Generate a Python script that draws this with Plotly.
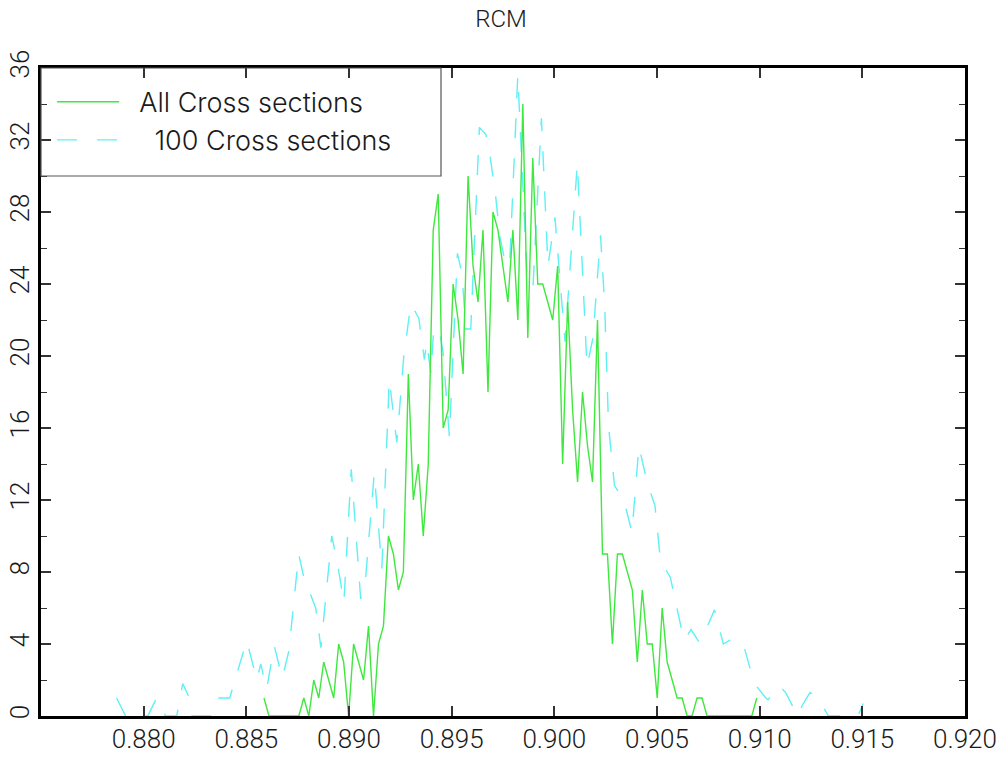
import plotly.graph_objects as go

# ---------------- data ----------------
# "All Cross sections": histogram counts on a regular bin grid
ALL_BIN_START = 0.88586
ALL_BIN_STEP = 0.00024242
all_counts = [1, 0, 0, 0, 0, 0, 0, 0, 1, 0,
              2, 1, 3, 2, 1, 4, 3, 0, 4, 3,
              2, 5, 0, 4, 5, 10, 9, 7, 8, 19,
              12, 14, 10, 14, 27, 29, 16, 17, 24, 22,
              19, 30, 25, 23, 27, 18, 28, 27, 25, 23,
              27, 22, 34, 21, 31, 24, 24, 23, 22, 25,
              14, 23, 17, 13, 18, 15, 13, 22, 9, 9,
              4, 9, 9, 8, 7, 3, 7, 4, 4, 1,
              6, 3, 2, 1, 1, 0, 0, 1, 1, 0,
              0, 0, 0, 0, 0, 0, 0, 0, 0, 1]
all_x = [ALL_BIN_START + i * ALL_BIN_STEP for i in range(len(all_counts))]

# "100 Cross sections": vertices
sub_x = [0.87868, 0.87912, 0.88020, 0.88063, 0.88107, 0.88161, 0.88190, 0.88219,
         0.88234, 0.88331, 0.88361, 0.88419, 0.88502, 0.88551, 0.88570, 0.88599,
         0.88636, 0.88675, 0.88707, 0.88755, 0.88780, 0.88838, 0.88863, 0.88916,
         0.88942, 0.88975, 0.89011, 0.89057, 0.89082, 0.89123, 0.89160, 0.89196,
         0.89233, 0.89267, 0.89301, 0.89340, 0.89367, 0.89379, 0.89399, 0.89413,
         0.89442, 0.89458, 0.89489, 0.89528, 0.89550, 0.89569, 0.89593, 0.89635,
         0.89667, 0.89686, 0.89714, 0.89735, 0.89759, 0.89782, 0.89822, 0.89868,
         0.89896, 0.89937, 0.89969, 0.90003, 0.90052, 0.90112, 0.90136, 0.90159,
         0.90188, 0.90225, 0.90245, 0.90264, 0.90293, 0.90339, 0.90378, 0.90412,
         0.90451, 0.90490, 0.90519, 0.90539, 0.90565, 0.90588, 0.90631, 0.90666,
         0.90705, 0.90724, 0.90780, 0.90823, 0.90870, 0.90920, 0.90945, 0.90974,
         0.91030, 0.91041, 0.91094, 0.91127, 0.91185, 0.91208, 0.91245, 0.91283,
         0.91335, 0.91479, 0.91504]
sub_counts = [1.0, 0, 0, 1.0, 0, 0, 1.8, 1.1,
              0, 0, 1.0, 1.0, 4.2, 2.0, 2.9, 1.5,
              3.9, 2.1, 3.6, 9.0, 7.7, 6.0, 3.8, 10.0,
              8.6, 6.3, 13.7, 6.5, 7.8, 13.5, 8.2, 18.7,
              15.2, 20.0, 22.9, 22.1, 19.8, 20.8, 19.0, 21.6,
              21.3, 20.2, 15.5, 25.7, 24.6, 21.5, 21.5, 32.7,
              32.3, 31.2, 28.9, 26.6, 25.3, 25.0, 35.6, 24.2,
              23.8, 33.2, 25.0, 27.7, 20.8, 30.7, 25.0, 19.4,
              21.0, 26.7, 22.9, 16.1, 12.8, 12.0, 10.2, 15.0,
              13.0, 11.7, 8.4, 8.2, 7.7, 6.5, 4.2, 4.8,
              4.1, 4.4, 5.9, 4.0, 4.3, 4.0, 3.0, 1.8,
              1.0, 0.9, 1.7, 1.3, 0, 0.6, 1.3, 1.0,
              0, 0, 0.7]

x_tick_vals = [0.880, 0.885, 0.890, 0.895, 0.900, 0.905, 0.910, 0.915, 0.920]
x_tick_text = ["0.880", "0.885", "0.890", "0.895", "0.900", "0.905", "0.910", "0.915", "0.920"]
y_tick_vals = [0, 4, 8, 12, 16, 20, 24, 28, 32, 36]

FONT = "Roboto, Noto Sans, Liberation Sans, sans-serif"
LEG_FONT = "Inter, Roboto, Noto Sans, sans-serif"
TXT = "#1a1a1a"

fig = go.Figure()
fig.add_trace(go.Scatter(
    x=sub_x, y=sub_counts, mode="lines",
    name="\u00a0\u00a0\u00a0\u00a0100 Cross sections", legendgroup="b",
    line=dict(color="#5ef0f5", width=1.4, dash="20px,20px"), legendrank=2))
fig.add_trace(go.Scatter(
    x=all_x, y=all_counts, mode="lines",
    name="\u00a0\u00a0All Cross sections", legendgroup="a",
    line=dict(color="#3ee83e", width=1.4), legendrank=1))

fig.update_layout(
    width=1002, height=758,
    margin=dict(l=41, r=37, t=68, b=42, autoexpand=False),
    paper_bgcolor="white", plot_bgcolor="white",
    font=dict(family=FONT, size=26, color=TXT, weight=300),
    title=dict(text="RCM", x=0.5, xanchor="center", y=0.975, yanchor="middle",
               font=dict(family=FONT, size=24, color=TXT, weight=300)),
    showlegend=True,
    legend=dict(x=0.012, y=0.985, xanchor="left", yanchor="top",
                bgcolor="rgba(0,0,0,0)", borderwidth=0, itemwidth=62,
                font=dict(family=LEG_FONT, size=27, color=TXT, weight=300),
                tracegroupgap=0),
    shapes=[dict(type="rect", xref="paper", yref="paper",
                 x0=0, x1=0.4329, y0=0.8333, y1=1.0,
                 line=dict(color="#555", width=1.2), fillcolor="rgba(0,0,0,0)",
                 layer="above")],
    xaxis=dict(range=[0.875, 0.920], tickvals=x_tick_vals, ticktext=x_tick_text,
               ticks="inside", ticklen=10, tickwidth=1.5, tickcolor="#333",
               showline=True, linecolor="black", linewidth=3, mirror="allticks",
               showgrid=False, zeroline=False, ticklabelstandoff=-2, automargin=False),
    yaxis=dict(range=[0, 36], tickvals=y_tick_vals, tickangle=-90,
               ticks="inside", ticklen=10, tickwidth=1.5, tickcolor="#333",
               minor=dict(dtick=2, ticks="inside", ticklen=6, tickwidth=1.2, tickcolor="#333"),
               showline=True, linecolor="black", linewidth=3, mirror="allticks",
               showgrid=False, zeroline=False, ticklabelstandoff=-1, automargin=False),
)

# remove the default 8px page margin so the figure fills the window exactly
fig.write_html("out.html", config={"displayModeBar": False},
               post_script="document.body.style.margin='0';")
